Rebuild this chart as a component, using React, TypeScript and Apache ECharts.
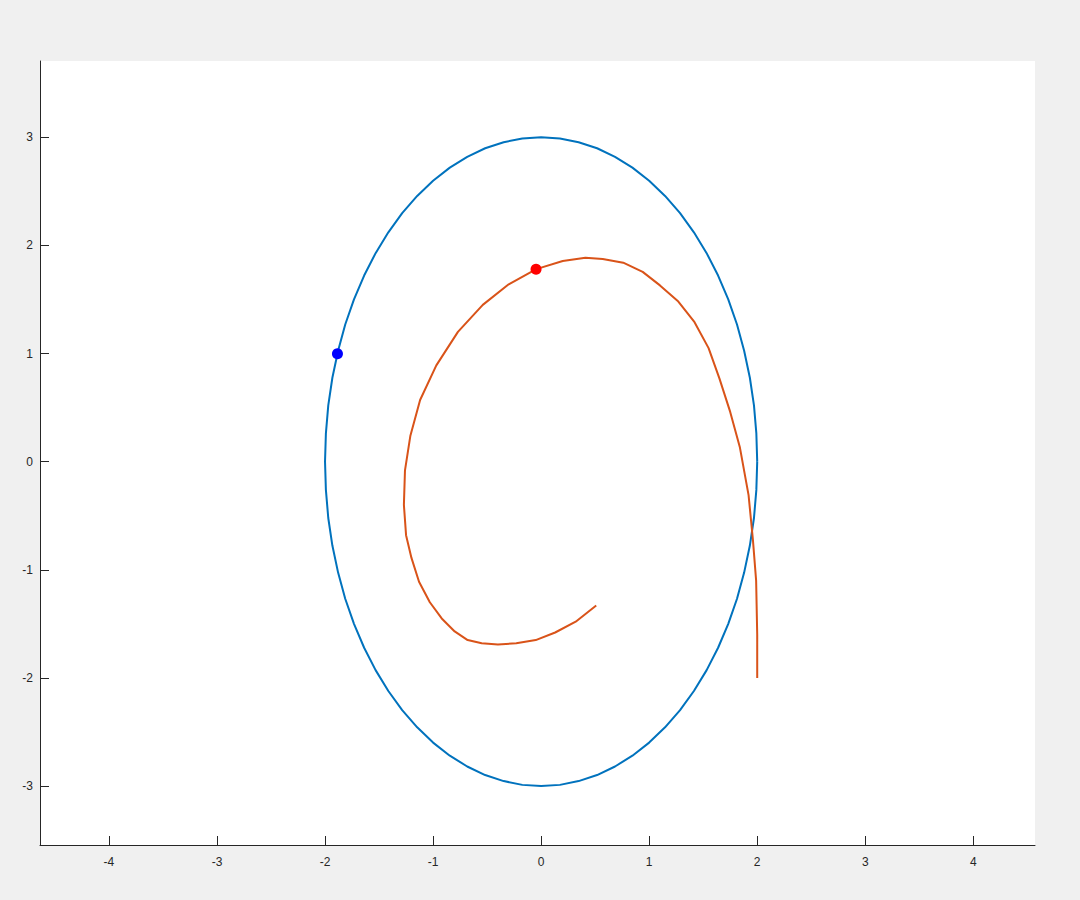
import React, { useEffect, useRef } from "react";
import * as echarts from "echarts";

// Blue ellipse, points
const ellipsePoints: [number, number][] = [
  [2.0, 0.0], [1.992, 0.261], [1.97, 0.521], [1.932, 0.776], [1.879, 1.026], [1.813, 1.268],
  [1.732, 1.5], [1.638, 1.721], [1.532, 1.928], [1.414, 2.121], [1.286, 2.298], [1.147, 2.457],
  [1.0, 2.598], [0.845, 2.719], [0.684, 2.819], [0.518, 2.898], [0.347, 2.954], [0.174, 2.989],
  [0.0, 3.0], [-0.174, 2.989], [-0.347, 2.954], [-0.518, 2.898], [-0.684, 2.819], [-0.845, 2.719],
  [-1.0, 2.598], [-1.147, 2.457], [-1.286, 2.298], [-1.414, 2.121], [-1.532, 1.928], [-1.638, 1.721],
  [-1.732, 1.5], [-1.813, 1.268], [-1.879, 1.026], [-1.932, 0.776], [-1.97, 0.521], [-1.992, 0.261],
  [-2.0, 0.0], [-1.992, -0.261], [-1.97, -0.521], [-1.932, -0.776], [-1.879, -1.026], [-1.813, -1.268],
  [-1.732, -1.5], [-1.638, -1.721], [-1.532, -1.928], [-1.414, -2.121], [-1.286, -2.298], [-1.147, -2.457],
  [-1.0, -2.598], [-0.845, -2.719], [-0.684, -2.819], [-0.518, -2.898], [-0.347, -2.954], [-0.174, -2.989],
  [0.0, -3.0], [0.174, -2.989], [0.347, -2.954], [0.518, -2.898], [0.684, -2.819], [0.845, -2.719],
  [1.0, -2.598], [1.147, -2.457], [1.286, -2.298], [1.414, -2.121], [1.532, -1.928], [1.638, -1.721],
  [1.732, -1.5], [1.813, -1.268], [1.879, -1.026], [1.932, -0.776], [1.97, -0.521], [1.992, -0.261],
  [2.0, 0.0],
];

// Orange trajectory, points
const trajectoryPoints: [number, number][] = [
  [2.0, -2.0], [2.0, -1.6], [1.99, -1.1], [1.96, -0.72], [1.92, -0.31], [1.84, 0.13],
  [1.75, 0.46], [1.65, 0.77], [1.55, 1.05], [1.42, 1.29], [1.27, 1.48], [1.1, 1.63],
  [0.94, 1.755], [0.76, 1.84], [0.57, 1.875], [0.41, 1.885], [0.2, 1.855], [-0.045, 1.78],
  [-0.3, 1.64], [-0.54, 1.45], [-0.77, 1.2], [-0.97, 0.89], [-1.12, 0.57], [-1.21, 0.24],
  [-1.26, -0.08], [-1.27, -0.4], [-1.25, -0.68], [-1.2, -0.89], [-1.13, -1.11], [-1.03, -1.3],
  [-0.92, -1.45], [-0.8, -1.57], [-0.68, -1.65], [-0.55, -1.68], [-0.4, -1.69], [-0.23, -1.68],
  [-0.05, -1.65], [0.13, -1.58], [0.32, -1.48], [0.51, -1.33],
];

const bluePoint: [number, number][] = [[-1.885, 0.997]];
const redPoint: [number, number][] = [[-0.047, 1.78]];

const xTicks = [-4, -3, -2, -1, 0, 1, 2, 3, 4];
const yTicks = [-3, -2, -1, 0, 1, 2, 3];

const X_MIN = -4.638;
const X_MAX = 4.571;
const Y_MIN = -3.545;
const Y_MAX = 3.705;

export default function App() {
  const ref = useRef<HTMLDivElement>(null);

  useEffect(() => {
    if (!ref.current) return;
    const chart = echarts.init(ref.current, undefined, { renderer: "svg" });
    const axisColor = "#262626";
    const labelFont = {
      color: axisColor,
      fontSize: 12,
      fontFamily: "'Liberation Sans', Arial, Helvetica, sans-serif",
    };
    chart.setOption({
      animation: false,
      backgroundColor: "#f0f0f0",
      grid: {
        left: 40,
        top: 61,
        width: 995,
        height: 784,
        show: true,
        backgroundColor: "#ffffff",
        borderWidth: 0,
        containLabel: false,
      },
      xAxis: {
        type: "value",
        min: X_MIN,
        max: X_MAX,
        axisLine: { show: true, onZero: false, lineStyle: { color: axisColor, width: 1 } },
        axisTick: { show: true, inside: true, length: 9, customValues: xTicks, lineStyle: { color: axisColor } },
        axisLabel: { ...labelFont, margin: 11, customValues: xTicks, formatter: (v: number) => String(v) },
        splitLine: { show: false },
      },
      yAxis: {
        type: "value",
        min: Y_MIN,
        max: Y_MAX,
        axisLine: { show: true, onZero: false, lineStyle: { color: axisColor, width: 1 } },
        axisTick: { show: true, inside: true, length: 9, customValues: yTicks, lineStyle: { color: axisColor } },
        axisLabel: { ...labelFont, margin: 7, customValues: yTicks, formatter: (v: number) => String(v) },
        splitLine: { show: false },
      },
      series: [
        {
          type: "line",
          data: ellipsePoints,
          showSymbol: false,
          smooth: false,
          lineStyle: { color: "#0072BD", width: 2 },
          z: 2,
        },
        {
          type: "line",
          data: trajectoryPoints,
          showSymbol: false,
          smooth: false,
          lineStyle: { color: "#D95319", width: 2 },
          z: 3,
        },
        {
          type: "scatter",
          data: bluePoint,
          symbol: "circle",
          symbolSize: 11,
          itemStyle: { color: "#0000FF", opacity: 1 },
          z: 4,
        },
        {
          type: "scatter",
          data: redPoint,
          symbol: "circle",
          symbolSize: 11,
          itemStyle: { color: "#FF0000", opacity: 1 },
          z: 4,
        },
      ],
    });
    return () => chart.dispose();
  }, []);

  return (
    <div
      ref={ref}
      style={{ position: "fixed", left: 0, top: 0, width: 1080, height: 900, background: "#f0f0f0" }}
    />
  );
}
